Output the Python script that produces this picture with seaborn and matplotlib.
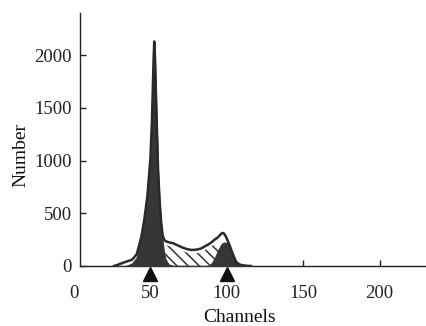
import numpy as np
import pandas as pd
import seaborn as sns
import matplotlib
matplotlib.use("Agg")
import matplotlib.pyplot as plt
from matplotlib.transforms import offset_copy

# ---- data ----
channels = [26, 28, 30, 34, 38, 41, 44, 46, 48, 50, 51, 52, 52.5, 53, 54,
            55, 56, 57, 58, 59, 60, 62, 65, 68, 71, 74, 77, 80, 83, 86,
            88, 90, 92, 94, 96, 97, 98, 99, 100, 102, 104, 106, 108, 110, 112,
            114, 116]
total = [0, 8, 20, 40, 60, 110, 270, 440, 660, 1020, 1370, 1920, 2130, 1970, 1420,
         920, 620, 420, 290, 250, 235, 225, 215, 195, 175, 160, 152, 155, 165, 190,
         205, 225, 250, 270, 300, 314, 310, 290, 260, 190, 110, 42, 16, 8, 4,
         1, 0]
g1 = [0, 0, 0, 0, 25, 80, 250, 420, 640, 1000, 1350, 1900, 2120, 1950, 1400,
      900, 600, 380, 230, 120, 60, 15, 0, 0, 0, 0, 0, 0, 0, 0,
      0, 0, 0, 0, 0, 0, 0, 0, 0, 0, 0, 0, 0, 0, 0,
      0, 0]
s_phase = [0, 0, 0, 0, 0, 0, 0, 0, 0, 0, 0, 0, 0, 0, 0,
           120, 180, 195, 205, 205, 198, 190, 180, 162, 142, 127, 120, 122, 132, 155,
           170, 188, 212, 200, 150, 110, 80, 50, 25, 0, 0, 0, 0, 0, 0,
           0, 0]
g2 = [0, 0, 0, 0, 0, 0, 0, 0, 0, 0, 0, 0, 0, 0, 0,
      0, 0, 0, 0, 0, 0, 0, 0, 0, 0, 0, 0, 0, 0, 0,
      0, 25, 70, 140, 195, 215, 222, 222, 220, 182, 104, 38, 14, 6, 2,
      0, 0]
marker_channels = [50, 100]
xticks = [0, 50, 100, 150, 200]
yticks = [0, 500, 1000, 1500, 2000]

df = pd.DataFrame({"Channels": channels, "total": total, "g1": g1,
                   "s": s_phase, "g2": g2})

sns.set_theme(style="ticks")
plt.rcParams["font.family"] = ["Liberation Serif", "DejaVu Serif"]
plt.rcParams["hatch.linewidth"] = 1.1
plt.rcParams["hatch.color"] = "#333333"

fig = plt.figure(figsize=(4.27, 3.26), dpi=100)
ax = fig.add_axes([74 / 427, 60 / 326, 353 / 427, 253 / 326])

dark = "#363636"
# envelope
ax.fill_between(df["Channels"], 0, df["total"], color="white", zorder=1)
# S phase hatched
ax.fill_between(df["Channels"], 0, df["s"], facecolor="white", edgecolor="#333333",
                hatch="\\\\\\", linewidth=0, zorder=2)
# G1 and G2 dark fills
ax.fill_between(df["Channels"], 0, df["g1"], color=dark, linewidth=0.8, zorder=3)
ax.fill_between(df["Channels"], 0, df["g2"], color=dark, linewidth=0.8, zorder=3)
sns.lineplot(data=df, x="Channels", y="total", color="#2a2a2a", linewidth=1.8,
             ax=ax, zorder=4)

# triangles under the axis
tr = offset_copy(ax.get_xaxis_transform(), fig=fig, x=0, y=-7.5, units="dots")
ax.plot(marker_channels, [0] * len(marker_channels), linestyle="none", marker="^",
        markersize=9.5, color="#111111", transform=tr, clip_on=False, zorder=5)

ax.set_xlim(0, 231)
ax.set_ylim(0, 2400)
ax.spines["top"].set_visible(False)
ax.spines["right"].set_visible(False)
ax.spines["left"].set_position(("data", 4))
ax.spines["bottom"].set_bounds(4, 231)
for sp in ("left", "bottom"):
    ax.spines[sp].set_linewidth(1.0)
    ax.spines[sp].set_color("#222222")

ax.set_xticks(xticks)
ax.set_yticks(yticks)
ax.set_xticklabels([str(v) for v in xticks])
ax.set_yticklabels([str(v) for v in yticks])
ax.tick_params(axis="x", direction="in", length=4, width=1, pad=14,
               labelsize=13.5, colors="#222222")
ax.tick_params(axis="y", direction="in", length=4, width=1, pad=6,
               labelsize=13.5, colors="#222222")
ax.xaxis.get_major_ticks()[0].tick1line.set_visible(False)

ax.set_xlabel("Channels", fontsize=14, color="#111111")
ax.set_ylabel("Number", fontsize=14, color="#111111")
ax.xaxis.set_label_coords(0.47, -0.168)
ax.yaxis.set_label_coords(-0.125, 0.44)

fig.savefig("out.png", dpi=100)
